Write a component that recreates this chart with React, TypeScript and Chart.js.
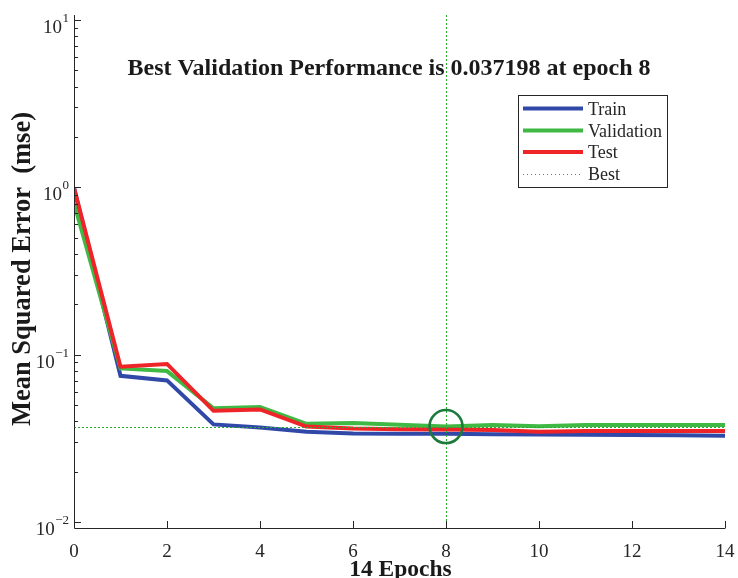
import React, { useEffect, useRef } from "react";
import { Chart, registerables } from "chart.js";

Chart.register(...registerables);

const epochs = [0, 1, 2, 3, 4, 5, 6, 7, 8, 9, 10, 11, 12, 13, 14];
const trainMse = [0.99, 0.0748, 0.0702, 0.0383, 0.0367, 0.0346, 0.0338, 0.0337, 0.0337, 0.0335, 0.0333, 0.0332, 0.0331, 0.033, 0.0328];
const validationMse = [0.805, 0.0828, 0.0798, 0.0478, 0.0486, 0.0386, 0.039, 0.0381, 0.037198, 0.038, 0.0374, 0.038, 0.038, 0.038, 0.038];
const testMse = [0.995, 0.0848, 0.088, 0.0462, 0.0471, 0.0372, 0.0362, 0.0358, 0.0357, 0.0355, 0.0346, 0.035, 0.035, 0.035, 0.035];
const bestEpoch = 8;
const bestValue = 0.037198;
const xTickValues = [0, 2, 4, 6, 8, 10, 12, 14];
const yDecadeExponents = [-2, -1, 0, 1];
const titleText = "Best Validation Performance is 0.037198 at epoch 8";
const xTitleText = "14 Epochs";
const yTitleText = "Mean Squared Error  (mse)";
const legendLabels = ["Train", "Validation", "Test", "Best"];

const BLUE = "rgb(48,72,168)";
const GREEN = "rgb(64,184,68)";
const DOTGREEN = "rgb(40,170,50)";
const RED = "rgb(238,36,40)";
const DARKGREEN = "rgb(30,122,60)";
const INK = "#262626";
const SERIF = '"Liberation Serif", "Times New Roman", serif';

const Y_MIN = 0.00921;
const Y_MAX = 10.71;

const overlayPlugin = {
  id: "overlay",
  afterDatasetsDraw(chart: any) {
    const { ctx, chartArea: ca, scales } = chart;
    const x = scales.x;
    const y = scales.y;
    const bx = x.getPixelForValue(bestEpoch);
    const by = y.getPixelForValue(bestValue);
    ctx.save();
    ctx.strokeStyle = DOTGREEN;
    ctx.lineWidth = 1;
    ctx.setLineDash([2, 2]);
    ctx.beginPath();
    ctx.moveTo(Math.round(bx) + 0.5, ca.top);
    ctx.lineTo(Math.round(bx) + 0.5, ca.bottom);
    ctx.moveTo(ca.left, Math.round(by) + 0.5);
    ctx.lineTo(ca.right, Math.round(by) + 0.5);
    ctx.stroke();
    ctx.setLineDash([]);
    ctx.strokeStyle = DARKGREEN;
    ctx.lineWidth = 2.6;
    ctx.beginPath();
    ctx.arc(bx, by, 16.5, 0, Math.PI * 2);
    ctx.stroke();
    ctx.restore();
  },
  afterDraw(chart: any) {
    const { ctx, chartArea: ca, scales } = chart;
    const x = scales.x;
    const y = scales.y;
    ctx.save();
    // axes
    ctx.strokeStyle = INK;
    ctx.lineWidth = 1;
    ctx.beginPath();
    ctx.moveTo(ca.left + 0.5, ca.top);
    ctx.lineTo(ca.left + 0.5, ca.bottom + 0.5);
    ctx.lineTo(ca.right + 0.5, ca.bottom + 0.5);
    ctx.stroke();
    // y ticks (inward)
    ctx.beginPath();
    for (let d = -3; d <= 1; d++) {
      for (let m = 1; m <= 9; m++) {
        const v = m * Math.pow(10, d);
        if (v < Y_MIN || v > Y_MAX) continue;
        const py = Math.round(y.getPixelForValue(v)) + 0.5;
        const len = m === 1 ? 7 : 4;
        ctx.moveTo(ca.left, py);
        ctx.lineTo(ca.left + len, py);
      }
    }
    // x ticks (inward)
    for (const t of xTickValues) {
      const px = Math.round(x.getPixelForValue(t)) + 0.5;
      ctx.moveTo(px, ca.bottom);
      ctx.lineTo(px, ca.bottom - 7);
    }
    ctx.stroke();
    // x tick labels
    ctx.fillStyle = INK;
    ctx.font = `19px ${SERIF}`;
    ctx.textAlign = "center";
    ctx.textBaseline = "alphabetic";
    for (const t of xTickValues) {
      ctx.fillText(String(t), x.getPixelForValue(t), 557);
    }
    // y tick labels with superscript
    for (const e of yDecadeExponents) {
      const py = y.getPixelForValue(Math.pow(10, e));
      const sup = String(e).replace("-", "\u2212");
      ctx.font = `13px ${SERIF}`;
      ctx.textAlign = "right";
      ctx.fillText(sup, 69, py + 2);
      const supW = ctx.measureText(sup).width;
      ctx.font = `19px ${SERIF}`;
      ctx.fillText("10", 69 - supW - 0.5, py + 13);
    }
    // title
    ctx.fillStyle = "#1a1a1a";
    ctx.font = `bold 24px ${SERIF}`;
    ctx.textAlign = "center";
    ctx.fillText(titleText, 389, 75);
    // x title
    ctx.font = `bold 23.5px ${SERIF}`;
    ctx.fillText(xTitleText, (ca.left + ca.right) / 2 + 1, 576);
    // y title
    ctx.save();
    ctx.translate(30, 269);
    ctx.rotate(-Math.PI / 2);
    ctx.font = `bold 26.5px ${SERIF}`;
    ctx.fillText(yTitleText, 0, 0);
    ctx.restore();
    // legend
    const lx = 518.5, ly = 95.5, lw = 149, lh = 92;
    ctx.fillStyle = "#ffffff";
    ctx.fillRect(lx, ly, lw, lh);
    ctx.strokeStyle = INK;
    ctx.lineWidth = 1;
    ctx.strokeRect(lx, ly, lw, lh);
    const rows = [108.5, 130.5, 152, 174];
    const colors = [BLUE, GREEN, RED, DOTGREEN];
    legendLabels.forEach((label, i) => {
      const ry = rows[i];
      ctx.strokeStyle = colors[i];
      if (i === 3) {
        ctx.lineWidth = 1;
        ctx.setLineDash([1, 3]);
      } else {
        ctx.lineWidth = 4;
        ctx.setLineDash([]);
      }
      ctx.beginPath();
      ctx.moveTo(523, i === 3 ? Math.round(ry) + 0.5 : ry);
      ctx.lineTo(583, i === 3 ? Math.round(ry) + 0.5 : ry);
      ctx.stroke();
      ctx.setLineDash([]);
      ctx.fillStyle = INK;
      ctx.font = `18px ${SERIF}`;
      ctx.textAlign = "left";
      ctx.textBaseline = "middle";
      ctx.fillText(label, 588, ry + 1.5);
    });
    ctx.restore();
  },
};

function toPoints(values: number[]) {
  return epochs.map((e, i) => ({ x: e, y: values[i] }));
}

export default function App() {
  const canvasRef = useRef<HTMLCanvasElement | null>(null);

  useEffect(() => {
    const canvas = canvasRef.current;
    if (!canvas) return;
    const chart = new Chart(canvas, {
      type: "line",
      data: {
        datasets: [
          { label: "Train", data: toPoints(trainMse), borderColor: BLUE, borderWidth: 4, pointRadius: 0, order: 2, tension: 0 },
          { label: "Validation", data: toPoints(validationMse), borderColor: GREEN, borderWidth: 4, pointRadius: 0, order: 1, tension: 0 },
          { label: "Test", data: toPoints(testMse), borderColor: RED, borderWidth: 4, pointRadius: 0, order: 0, tension: 0 },
        ],
      },
      options: {
        animation: false,
        responsive: true,
        maintainAspectRatio: false,
        layout: { padding: { top: 15, right: 13, left: 0, bottom: 0 } },
        plugins: { legend: { display: false }, title: { display: false }, tooltip: { enabled: false } },
        events: [],
        scales: {
          x: {
            type: "linear",
            min: 0,
            max: 14,
            grid: { display: false },
            border: { display: false },
            ticks: { display: false },
            afterFit: (s: any) => { s.height = 50; },
          },
          y: {
            type: "logarithmic",
            min: Y_MIN,
            max: Y_MAX,
            grid: { display: false },
            border: { display: false },
            ticks: { display: false },
            afterFit: (s: any) => { s.width = 74; },
          },
        },
      },
      plugins: [overlayPlugin],
    } as any);
    return () => chart.destroy();
  }, []);

  return (
    <div style={{ position: "fixed", left: 0, top: 0, width: 738, height: 578, background: "#fff" }}>
      <canvas ref={canvasRef} />
    </div>
  );
}
